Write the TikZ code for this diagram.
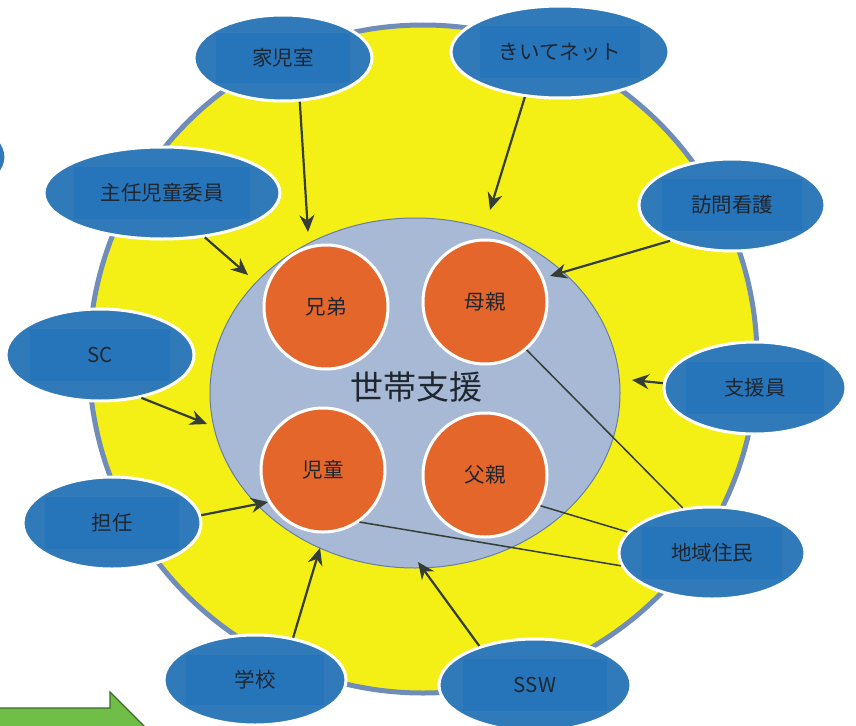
\documentclass[tikz,border=0pt]{standalone}
\usepackage{fontspec}
\newfontfamily\jp{Noto Sans CJK JP}
\usetikzlibrary{shapes.geometric,arrows.meta}
\definecolor{ylw}{RGB}{244,240,22}
\definecolor{ringc}{RGB}{112,140,184}
\definecolor{lblue}{RGB}{168,185,214}
\definecolor{lblueb}{RGB}{102,126,166}
\definecolor{orng}{RGB}{228,102,42}
\definecolor{bblue}{RGB}{48,122,186}
\definecolor{iblue}{RGB}{38,117,186}
\definecolor{txt}{RGB}{30,38,48}
\definecolor{arr}{RGB}{52,62,52}
\definecolor{grn}{RGB}{112,190,72}
\definecolor{grnb}{RGB}{58,108,40}
\tikzset{
  bub/.style={ellipse, fill=bblue, draw=white, line width=3pt, inner sep=0pt},
  txtbox/.style={rectangle, fill=iblue, inner sep=0pt, text=txt, font=\jp\fontsize{20.5}{22}\selectfont},
  fam/.style={circle, fill=orng, draw=white, line width=3pt, minimum size=124pt, inner sep=0pt, text=txt, font=\jp\fontsize{20.5}{22}\selectfont},
  conn/.style={draw=arr, line width=2.2pt, -{Stealth[length=17pt,width=15pt]}},
  plain/.style={draw=arr, line width=1.5pt}
}
\newcommand\bubble[8]{%
  \node[bub, minimum width=#4pt, minimum height=#5pt] (#1) at (#2,#3) {};
  \node[txtbox, minimum width=#6pt, minimum height=#7pt] (#1t) at (#1) {#8};
}
\begin{document}
\begin{tikzpicture}[x=1pt,y=-1pt]
\useasboundingbox (0,0) rectangle (856,725);
\clip (0,0) rectangle (856,725);
\fill[white] (0,0) rectangle (856,725);
% green arrow
\draw[fill=grn, draw=grnb, line width=1.2pt] (-5,708) -- (110,708) -- (110,692) -- (180,762) -- (110,832) -- (-5,832) -- cycle;
% partial ellipse at left edge
\node[bub, minimum width=184pt, minimum height=92pt] (edge) at (-86,157) {};
% outer yellow circle
\node[ellipse, fill=ylw, draw=ringc, line width=5pt, minimum width=668pt, minimum height=668pt, inner sep=0pt] (outer) at (423,359) {};
% household ellipse
\node[ellipse, fill=lblue, draw=lblueb, line width=1pt, minimum width=410pt, minimum height=350pt, inner sep=0pt] (house) at (415,393) {};
\node[text=txt, font=\jp\fontsize{33}{36}\selectfont] (title) at (416,387) {世帯支援};
% family circles
\node[fam] (kyodai) at (326,307) {兄弟};
\node[fam] (haha) at (485,302) {母親};
\node[fam] (jido) at (323,470) {児童};
\node[fam] (chichi) at (485,475) {父親};
% outer bubbles
\bubble{kaji}{283}{58}{178}{86}{134}{49}{家児室}
\bubble{kiite}{560}{52}{218}{92}{160}{52}{きいてネット}
\bubble{shunin}{162}{193}{236}{92}{176}{52}{主任児童委員}
\bubble{houmon}{732}{205}{186}{92}{140}{52}{訪問看護}
\bubble{sc}{100}{355}{188}{92}{140}{52}{SC}
\bubble{shien}{755}{388}{182}{92}{138}{52}{支援員}
\bubble{tannin}{112}{523}{178}{92}{134}{52}{担任}
\bubble{chiiki}{712}{553}{186}{92}{140}{52}{地域住民}
\bubble{gakkou}{255}{680}{182}{90}{138}{50}{学校}
\bubble{ssw}{535}{685}{192}{92}{144}{52}{SSW}
% arrow tips
\coordinate (t1) at (308,232);
\coordinate (t2) at (490,210);
\coordinate (t3) at (248,275);
\coordinate (t4) at (550,276);
\coordinate (t5) at (207,424);
\coordinate (t6) at (632,380);
\coordinate (t7) at (268,502);
\coordinate (t8) at (320,548);
\coordinate (t9) at (418,562);
\draw[conn] (kaji.-69) -- (t1);
\draw[conn] (kiite.-128) -- (t2);
\draw[conn] (shunin.-46) -- (t3);
\draw[conn] (houmon.-150) -- (t4);
\draw[conn] (sc.-46) -- (t5);
\draw[conn] (shien.177) -- (t6);
\draw[conn] (tannin.5) -- (t7);
\draw[conn] (gakkou.48) -- (t8);
\draw[conn] (ssw.145) -- (t9);
% plain lines to community
\draw[plain] (haha.-49) -- (chiiki.123);
\draw[plain] (chichi.-29) -- (chiiki.166);
\draw[plain] (jido.-55) -- (chiiki.-172);
\end{tikzpicture}
\end{document}
